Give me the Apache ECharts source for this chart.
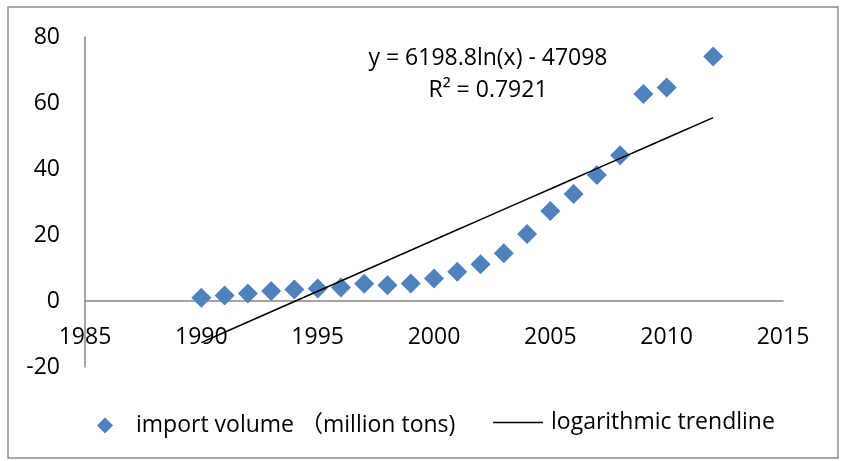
<!DOCTYPE html>
<html>
<head>
<meta charset="utf-8">
<script src="https://cdn.jsdelivr.net/npm/echarts@6/dist/echarts.min.js"></script>
<style>
  html, body { margin: 0; padding: 0; background: #fff; }
  #chart { width: 841px; height: 461px; }
</style>
</head>
<body>
<div id="chart"></div>
<script>
// Annual import volume, million tons
const years = [1990, 1991, 1992, 1993, 1994, 1995, 1996, 1997, 1998, 1999, 2000,
               2001, 2002, 2003, 2004, 2005, 2006, 2007, 2008, 2009, 2010, 2012];
const importVolume = [1.0, 1.7, 2.3, 3.0, 3.5, 3.8, 4.1, 5.2, 4.8, 5.3, 6.8,
                      8.9, 11.1, 14.5, 20.3, 27.3, 32.4, 38.2, 44.2, 62.7, 64.7, 74.1];

// Logarithmic trendline y = a*ln(x) + b, and its R squared
const trendCoef = [6198.8, -47098];
const trendR2 = 0.7921;

const seriesNames = ['import volume \uff08million tons)', 'logarithmic trendline'];

const FONT = '"Open Sans", "Noto Sans CJK SC", sans-serif';
const FS = 23;
const BLUE = '#4F81BD';
const AXIS_GRAY = '#868686';

const scatterData = years.map((y, i) => [y, importVolume[i]]);
const trendData = years.map(y => [y, trendCoef[0] * Math.log(y) + trendCoef[1]]);

const eqText = 'y = ' + trendCoef[0].toFixed(1) + 'ln(x) - ' + Math.abs(trendCoef[1]);
const r2Text = 'R\u00b2 = ' + trendR2.toFixed(4);

const chart = echarts.init(document.getElementById('chart'), null, { renderer: 'canvas' });

chart.setOption({
  animation: false,
  backgroundColor: '#fff',
  textStyle: { fontFamily: FONT },
  grid: { left: 85, right: 58, top: 37, bottom: 94, containLabel: false },
  xAxis: {
    type: 'value',
    min: 1985, max: 2015, interval: 5,
    axisLine: { show: true, onZero: true, lineStyle: { color: AXIS_GRAY, width: 1.5 } },
    axisTick: { show: false },
    splitLine: { show: false },
    axisLabel: { color: '#000', fontSize: FS, fontFamily: FONT, margin: -41,
                 showMinLabel: true, showMaxLabel: true,
                 formatter: v => String(v) }
  },
  yAxis: {
    type: 'value',
    min: -20, max: 80, interval: 20,
    axisLine: { show: true, onZero: false, lineStyle: { color: AXIS_GRAY, width: 1.5 } },
    axisTick: { show: false },
    splitLine: { show: false },
    axisLabel: { color: '#000', fontSize: FS, fontFamily: FONT, margin: 25 }
  },
  legend: [
    {
      data: [{ name: seriesNames[0], icon: 'diamond' }],
      left: 97, top: 414, padding: 0,
      itemWidth: 16, itemHeight: 16,
      textStyle: { color: '#000', fontSize: FS, fontFamily: FONT, padding: [0, 0, 0, 18] }
    },
    {
      data: [{ name: seriesNames[1], icon: 'rect' }],
      left: 493, top: 411, padding: 0,
      itemWidth: 50, itemHeight: 1.5,
      itemStyle: { color: '#000' },
      textStyle: { color: '#000', fontSize: FS, fontFamily: FONT, padding: [0, 0, 0, 3] }
    }
  ],
  graphic: [
    {
      type: 'rect', silent: true, z: -1,
      shape: { x: 8, y: 7, width: 830, height: 451 },
      style: { fill: 'none', stroke: '#8c8c8c', lineWidth: 1.5 }
    },
    {
      type: 'text', x: 488, y: 58, z: 10,
      style: { text: eqText, font: FS + 'px ' + FONT, fill: '#000',
               textAlign: 'center', textVerticalAlign: 'middle' }
    },
    {
      type: 'text', x: 488, y: 90, z: 10,
      style: { text: r2Text, font: FS + 'px ' + FONT, fill: '#000',
               textAlign: 'center', textVerticalAlign: 'middle' }
    }
  ],
  series: [
    {
      name: seriesNames[0],
      type: 'scatter',
      symbol: 'diamond',
      symbolSize: 20,
      itemStyle: { color: BLUE, opacity: 1 },
      data: scatterData,
      z: 3
    },
    {
      name: seriesNames[1],
      type: 'line',
      symbol: 'none',
      showSymbol: false,
      lineStyle: { color: '#000', width: 1.5 },
      itemStyle: { color: '#000' },
      data: trendData,
      z: 4
    }
  ]
});
</script>
</body>
</html>
